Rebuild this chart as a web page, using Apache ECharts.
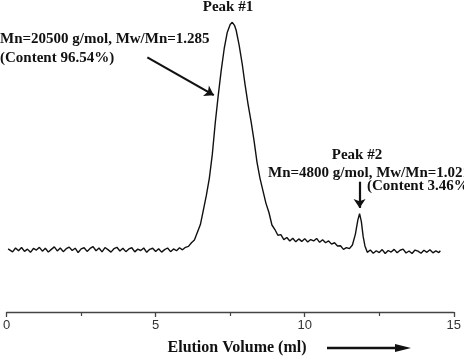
<!DOCTYPE html>
<html>
<head>
<meta charset="utf-8">
<script src="https://cdn.jsdelivr.net/npm/echarts@6/dist/echarts.min.js"></script>
<style>
html, body { margin: 0; padding: 0; background: #fff; }
#main { width: 464px; height: 361px; }
</style>
</head>
<body>
<div id="main"></div>
<script>
// elution volume (ml) and detector signal (peak #1 = 100)
const volume = [
  0.05, 0.1, 0.2, 0.3, 0.4, 0.5, 0.6, 0.7, 0.8, 0.9, 1.0,
  1.1, 1.2, 1.3, 1.4, 1.5, 1.6, 1.7, 1.8, 1.9, 2.0,
  2.1, 2.2, 2.3, 2.4, 2.5, 2.6, 2.7, 2.8, 2.9, 3.0,
  3.1, 3.2, 3.3, 3.4, 3.5, 3.6, 3.7, 3.8, 3.9, 4.0,
  4.1, 4.2, 4.3, 4.4, 4.5, 4.6, 4.7, 4.8, 4.9, 5.0,
  5.1, 5.2, 5.3, 5.4, 5.5, 5.6, 5.7, 5.8, 5.9, 6.0,
  6.1, 6.2, 6.3, 6.4, 6.5, 6.6, 6.7, 6.8, 6.9, 7.0,
  7.1, 7.2, 7.3, 7.4, 7.5, 7.57, 7.65, 7.7, 7.8, 7.9, 8.0,
  8.1, 8.2, 8.3, 8.4, 8.5, 8.6, 8.7, 8.8, 8.9, 9.0,
  9.1, 9.2, 9.3, 9.4, 9.5, 9.6, 9.7, 9.8, 9.9, 10.0,
  10.1, 10.2, 10.3, 10.4, 10.5, 10.6, 10.7, 10.8, 10.9, 11.0,
  11.1, 11.2, 11.3, 11.4, 11.5, 11.6, 11.7, 11.78, 11.84, 11.9, 11.96, 12.02,
  12.1, 12.2, 12.3, 12.4, 12.5, 12.6, 12.7, 12.8, 12.9, 13.0,
  13.1, 13.2, 13.3, 13.4, 13.5, 13.6, 13.7, 13.8, 13.9, 14.0,
  14.1, 14.2, 14.3, 14.4, 14.5, 14.55
];
const signal = [
  0.5, -0.2, -0.8, 0.9, -0.3, 1.1, -0.6, 0.4, -1.0, 0.7, 0.0,
  1.2, -0.5, 0.8, -0.9, 0.3, 1.4, -0.4, 0.9, -0.7, 0.6,
  1.3, -0.2, 0.8, -1.1, 0.5, 1.0, -0.6, 0.7, 1.5, -0.3,
  0.9, -0.8, 1.1, 0.2, -0.9, 0.6, 1.2, -0.4, 0.8, -0.7,
  0.5, 1.0, -0.8, 0.4, -0.2, 0.9, -1.0, 0.3, 0.8, -0.6,
  0.6, -0.9, 0.2, 0.9, -0.7, 0.5, -0.3, 1.0, 0.1, 1.2,
  1.6, 3.2, 4.4, 7.8, 11.2, 17.5, 24, 31.5, 42, 56,
  68, 79, 88.5, 95.5, 99, 100, 98.5, 96.5, 90, 82, 72.5,
  64, 56.5, 48, 38.5, 31.5, 26, 20.5, 16.5, 11, 9,
  6.5, 6.8, 4.6, 5.5, 4.0, 5.2, 3.6, 4.9, 3.8, 5.0,
  3.5, 4.6, 4.0, 5.1, 3.4, 4.5, 3.2, 4.0, 2.6, 3.2,
  1.8, 1.9, 0.3, 1.1, 0.6, 2.2, 7, 13, 16, 12.5, 6, 1.8,
  -1.0, 0.0, -1.4, -0.3, -1.1, 0.2, -1.5, -0.2, -0.9, 0.3,
  -1.2, -0.1, 0.4, -1.3, -0.4, -1.5, 0.0, -0.5, -1.4, -0.1,
  -1.0, 0.1, -1.2, -0.4, -1.1, -0.3
];
const xTicks = [0, 5, 10, 15];

const peak1Title = 'Peak #1';
const peak1Info = ['Mn=20500 g/mol, Mw/Mn=1.285', '(Content 96.54%)'];
const peak2Title = 'Peak #2';
const peak2Info = ['Mn=4800 g/mol, Mw/Mn=1.021', '(Content 3.46%)'];
const xTitle = 'Elution Volume (ml)';

const chart = echarts.init(document.getElementById('main'));

// annotation text, bold serif
function note(text, x, y, align, size) {
  return {
    type: 'text', x: x, y: y,
    style: {
      text: text, align: align || 'left', verticalAlign: 'middle',
      fontFamily: 'Liberation Serif', fontWeight: 'bold', fontSize: size || 15, fill: '#111'
    }
  };
}

const option = {
  backgroundColor: '#fff',
  animation: false,
  grid: { left: 3, right: 10, top: 20, bottom: 49 },
  xAxis: {
    type: 'value',
    min: xTicks[0],
    max: xTicks[xTicks.length - 1],
    interval: 5,
    axisLine: { onZero: false, lineStyle: { color: '#444', width: 1.3 } },
    axisTick: { show: true, length: 5, lineStyle: { color: '#444', width: 1.3 } },
    minorTick: { show: true, splitNumber: 2, length: 4, lineStyle: { color: '#444', width: 1.2 } },
    splitLine: { show: false },
    axisLabel: { color: '#333', fontSize: 13, fontFamily: 'Liberation Sans', margin: 7 }
  },
  yAxis: {
    type: 'value',
    min: -27.2,
    max: 101,
    show: false
  },
  series: [{
    type: 'line',
    data: volume.map((v, i) => [v, signal[i]]),
    showSymbol: false,
    lineStyle: { color: '#111', width: 1.4 },
    markLine: {
      silent: true,
      symbol: ['none', 'arrow'],
      symbolSize: 9,
      label: { show: false },
      lineStyle: { color: '#111', width: 2.2, type: 'solid' },
      data: [
        [{ coord: [4.72, 84.6] }, { coord: [6.95, 68] }],
        [{ coord: [11.84, 30] }, { coord: [11.84, 18.5] }]
      ]
    }
  }],
  graphic: [
    note(peak1Title, 228, 7, 'center'),
    note(peak1Info[0], 0, 39),
    note(peak1Info[1], 0, 58),
    note(peak2Title, 357, 155, 'center'),
    note(peak2Info[0], 268, 173),
    note(peak2Info[1], 367, 186),
    note(xTitle, 237, 348, 'center', 16),
    { type: 'line', shape: { x1: 327, y1: 348, x2: 398, y2: 348 }, style: { stroke: '#111', lineWidth: 2.5 } },
    { type: 'polygon', shape: { points: [[395, 344], [411, 348], [395, 352]] }, style: { fill: '#111' } }
  ]
};

chart.setOption(option);
</script>
</body>
</html>
